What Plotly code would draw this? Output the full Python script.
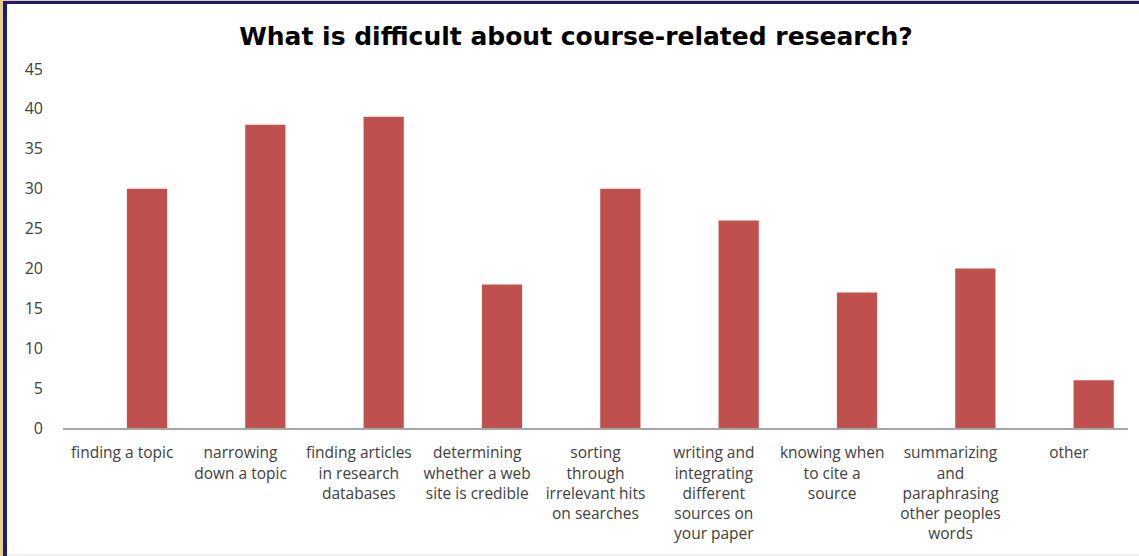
import plotly.graph_objects as go

categories = [
    "finding a topic",
    "narrowing<br>down a topic",
    "finding articles<br>in research<br>databases",
    "determining<br>whether a web<br>site is credible",
    "sorting<br>through<br>irrelevant hits<br>on searches",
    "writing and<br>integrating<br>different<br>sources on<br>your paper",
    "knowing when<br>to cite a<br>source",
    "summarizing<br>and<br>paraphrasing<br>other peoples<br>words",
    "other",
]
counts = [30, 38, 39, 18, 30, 26, 17, 20, 6]

W, H = 1139, 556
L, R, T, B = 63, 11, 69, 128
PW, PH = W - L - R, H - T - B


def px(x):
    return (x - L) / PW


def py(y):
    return (H - B - y) / PH


positions = list(range(len(categories)))

fig = go.Figure()
fig.add_trace(
    go.Bar(
        x=positions,
        y=counts,
        offset=0.04,
        width=0.34,
        marker=dict(color="#C0504D", line=dict(width=0)),
        hovertemplate="%{y}<extra></extra>",
    )
)

shapes = [
    # gold outer frame
    dict(type="rect", xref="paper", yref="paper", x0=px(0), x1=px(3), y0=py(H), y1=py(0),
         fillcolor="#E9CD8E", line=dict(width=0), layer="above"),
    dict(type="rect", xref="paper", yref="paper", x0=px(0), x1=px(W), y0=py(1), y1=py(0),
         fillcolor="#E9CD8E", line=dict(width=0), layer="above"),
    # navy border
    dict(type="rect", xref="paper", yref="paper", x0=px(3), x1=px(7), y0=py(H), y1=py(1),
         fillcolor="#1B1B7E", line=dict(width=0), layer="above"),
    dict(type="rect", xref="paper", yref="paper", x0=px(3), x1=px(W), y0=py(4), y1=py(1),
         fillcolor="#1B1B7E", line=dict(width=0), layer="above"),
    # faint bottom line
    dict(type="line", xref="paper", yref="paper", x0=px(7), x1=px(W), y0=py(555), y1=py(555),
         line=dict(color="#E4E4E4", width=1), layer="above"),
]

fig.update_layout(
    width=W,
    height=H,
    margin=dict(l=L, r=R, t=T, b=B, pad=0),
    paper_bgcolor="white",
    plot_bgcolor="white",
    showlegend=False,
    title=dict(
        text="<b>What is difficult about course-related research?</b>",
        x=576 / W,
        xanchor="center",
        y=1 - 36 / H,
        yanchor="middle",
        font=dict(family="DejaVu Sans", size=25, color="black"),
    ),
    font=dict(family="Open Sans", size=16, color="#404040"),
    shapes=shapes,
)

fig.update_xaxes(
    range=[-0.5, len(categories) - 0.5],
    tickmode="array",
    tickvals=positions,
    ticktext=categories,
    showgrid=False,
    zeroline=False,
    showline=True,
    linecolor="#A6A6A6",
    linewidth=1.5,
    ticks="",
    ticklabelstandoff=10,
    tickfont=dict(family="Open Sans", size=15.5, color="#404040"),
    fixedrange=True,
)
fig.update_yaxes(
    range=[0, 45],
    tickmode="array",
    tickvals=[0, 5, 10, 15, 20, 25, 30, 35, 40, 45],
    showgrid=False,
    zeroline=False,
    showline=False,
    ticks="",
    ticklabelstandoff=19,
    tickfont=dict(family="Open Sans", size=16, color="#404040"),
    fixedrange=True,
)

fig.write_html("out.html", config={"displayModeBar": False})

# drop the browser's default body margin so the figure sits at the page corner
with open("out.html", encoding="utf-8") as f:
    page = f.read()
page = page.replace("<body>", '<body style="margin:0;padding:0">', 1)
with open("out.html", "w", encoding="utf-8") as f:
    f.write(page)
